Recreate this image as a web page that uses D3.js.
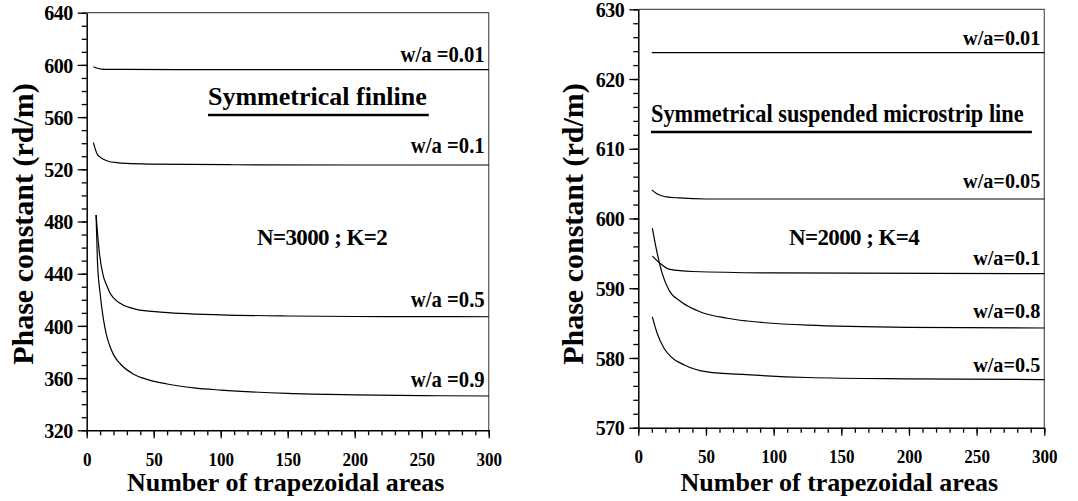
<!DOCTYPE html>
<html>
<head>
<meta charset="utf-8">
<script src="https://cdn.jsdelivr.net/npm/d3@7"></script>
<style>
  body { margin: 0; background: #fff; }
  text { font-family: "Liberation Serif", "Times New Roman", serif; font-weight: bold; fill: #000; }
</style>
</head>
<body>
<svg id="chart" width="1078" height="501"></svg>
<script>
// ---- data ----
// left panel: symmetrical finline, N=3000 ; K=2
var finX001 = [5, 8, 11, 15, 30, 100, 300]
var finY001 = [598.6, 597.4, 596.8, 596.6, 596.5, 596.4, 596.4]
var finX01 = [5, 7.5, 10, 12.5, 16, 22.5, 30, 47, 110, 200, 300]
var finY01 = [540.4, 532.3, 529.3, 527.7, 526.2, 525.1, 524.5, 524, 523.5, 523.3, 523.3]
var finX05 = [7, 9.5, 12.5, 15, 17.5, 20, 25, 37, 55, 70, 100, 150, 200, 250, 300]
var finY05 = [485, 455.6, 437.7, 431, 425, 421.5, 417.3, 412.7, 410.6, 409.6, 408.5, 407.6, 407.2, 407.1, 407]
var finX09 = [7, 8, 10, 12.5, 15, 17.5, 20, 25, 35, 45, 60, 80, 100, 150, 200, 250, 300]
var finY09 = [485, 450, 425, 405, 392, 384, 378, 371, 363, 359, 355.5, 352.5, 350.8, 348.3, 347.2, 346.6, 346.3]

// right panel: symmetrical suspended microstrip line, N=2000 ; K=4
var susX001 = [10, 300]
var susY001 = [623.8, 623.8]
var susX005 = [10, 14, 21, 30, 50, 100, 300]
var susY005 = [604.1, 603.5, 603.1, 602.95, 602.8, 602.8, 602.8]
var susX01 = [10.4, 15.3, 23.4, 40, 100, 300]
var susY01 = [594.6, 593.7, 592.7, 592.4, 592.2, 592.1]
var susX08 = [10.4, 14, 17.7, 22.7, 31.3, 46, 65.8, 80.5, 125, 200, 300]
var susY08 = [598.6, 595, 592.1, 589.7, 588.1, 586.6, 585.7, 585.3, 584.7, 584.4, 584.3]
var susX05 = [10.4, 14, 19, 24, 34, 51, 80, 125, 200, 300]
var susY05 = [585.9, 583.5, 581.4, 580.2, 579, 578, 577.6, 577.2, 577.0, 576.9]

var xTicks = [0, 50, 100, 150, 200, 250, 300]
var finYTicks = [320, 360, 400, 440, 480, 520, 560, 600, 640]
var susYTicks = [570, 580, 590, 600, 610, 620, 630]

var finLabels = ["w/a =0.01", "w/a =0.1", "w/a =0.5", "w/a =0.9"]
var finLabelAt = [602.5, 532.7, 414.5, 353.4]
var susLabels = ["w/a=0.01", "w/a=0.05", "w/a=0.1", "w/a=0.8", "w/a=0.5"]
var susLabelAt = [624.9, 604.4, 593.3, 585.7, 578]

var svg = d3.select("#chart")

function zip(xs, ys) {
    return xs.map(function(x, i) { return {x: x, y: ys[i]} })
}

function drawPanel(opt) {
    var x = d3.scaleLinear().domain([0, 300]).range(opt.xr)
    var y = d3.scaleLinear().domain(opt.yd).range(opt.yr)
    var g = svg.append("g")

    // frame (top and right side)
    g.append("path")
        .attr("d", "M" + opt.xr[0] + "," + opt.yr[1] + "H" + opt.xr[1] + "V" + opt.yr[0])
        .attr("fill", "none").attr("stroke", "#555").attr("stroke-width", 1.2)

    // y axis: minor then major ticks
    var yMinor = d3.range(opt.yd[0], opt.yd[1] + 0.001, opt.yMinorStep)
    g.append("g")
        .attr("transform", "translate(" + opt.xr[0] + ",0)")
        .call(d3.axisLeft(y).tickValues(yMinor).tickSize(5).tickFormat(""))
        .call(function(a) { a.select(".domain").remove() })
    var ya = g.append("g")
        .attr("transform", "translate(" + opt.xr[0] + ",0)")
        .call(d3.axisLeft(y).tickValues(opt.yTicks).tickSize(9).tickSizeOuter(0).tickPadding(5))
    ya.selectAll("text").style("font-size", "20px").style("letter-spacing", "-0.5px").attr("dy", "0.36em")

    // x axis
    g.append("g")
        .attr("transform", "translate(0," + opt.yr[0] + ")")
        .call(d3.axisBottom(x).tickValues(d3.range(0, 301, 10)).tickSize(5).tickFormat(""))
        .call(function(a) { a.select(".domain").remove() })
    var xa = g.append("g")
        .attr("transform", "translate(0," + opt.yr[0] + ")")
        .call(d3.axisBottom(x).tickValues(xTicks).tickSize(8).tickSizeOuter(0).tickPadding(14))
    xa.selectAll("text").style("font-size", "19px").attr("transform", "scale(0.9,1)")
    g.selectAll(".domain").attr("stroke-width", 1.5)
    g.selectAll(".tick line").attr("stroke-width", 1.3)

    // curves
    var line = d3.line()
        .x(function(d) { return x(d.x) })
        .y(function(d) { return y(d.y) })
        .curve(d3.curveMonotoneX)
    opt.series.forEach(function(s) {
        g.append("path")
            .datum(zip(s[0], s[1]))
            .attr("d", line)
            .attr("fill", "none")
            .attr("stroke", "#000")
            .attr("stroke-width", 1.2)
    })

    // curve labels
    opt.labels.forEach(function(l, i) {
        g.append("text")
            .attr("transform", "translate(" + (x(300) - 4) + "," + y(opt.labelAt[i]) + ") scale(" + opt.labelScale + ",1)")
            .attr("text-anchor", "end")
            .style("font-size", opt.labelFont + "px")
            .text(l)
    })

    // title + underline
    var t = g.append("text")
        .attr("transform", "translate(" + opt.titleX + "," + opt.titleY + ") scale(" + opt.titleScale + ",1)")
        .style("font-size", opt.titleFont + "px")
        .text(opt.title)
    var w = t.node().getBBox().width * opt.titleScale
    g.append("line")
        .attr("x1", opt.titleX).attr("x2", opt.titleX + w + opt.underlineExtra)
        .attr("y1", opt.underlineY).attr("y2", opt.underlineY)
        .attr("stroke", "#000").attr("stroke-width", 2.4)

    g.append("text")
        .attr("x", opt.noteX).attr("y", 245)
        .attr("text-anchor", "middle")
        .style("font-size", "23px")
        .style("letter-spacing", "-0.6px")
        .text(opt.note)

    // axis titles
    g.append("text")
        .attr("x", (opt.xr[0] + opt.xr[1]) / 2 - 2)
        .attr("y", 491)
        .attr("text-anchor", "middle")
        .style("font-size", "26px")
        .text("Number of trapezoidal areas")
    g.append("text")
        .attr("transform", "translate(" + opt.yTitleX + ",224) rotate(-90)")
        .attr("text-anchor", "middle")
        .style("font-size", "30px")
        .text("Phase constant (rd/m)")
}

drawPanel({
    xr: [86.7, 488.7], yd: [320, 640], yr: [430.3, 12.7],
    yTicks: finYTicks, yMinorStep: 10,
    series: [[finX001, finY001], [finX01, finY01], [finX05, finY05], [finX09, finY09]],
    labels: finLabels, labelAt: finLabelAt, labelFont: 23, labelScale: 0.9,
    title: "Symmetrical finline", titleX: 208, titleY: 105, titleFont: 26, titleScale: 1,
    underlineY: 115, underlineExtra: 2,
    note: "N=3000 ; K=2", noteX: 322,
    yTitleX: 33
})

drawPanel({
    xr: [638.3, 1044.3], yd: [570, 630], yr: [427.7, 9.3],
    yTicks: susYTicks, yMinorStep: 2,
    series: [[susX001, susY001], [susX005, susY005], [susX01, susY01], [susX08, susY08], [susX05, susY05]],
    labels: susLabels, labelAt: susLabelAt, labelFont: 22, labelScale: 0.92,
    title: "Symmetrical suspended microstrip line", titleX: 651, titleY: 122, titleFont: 26, titleScale: 0.86,
    underlineY: 132, underlineExtra: 8,
    note: "N=2000 ; K=4", noteX: 854,
    yTitleX: 583
})
</script>
</body>
</html>
